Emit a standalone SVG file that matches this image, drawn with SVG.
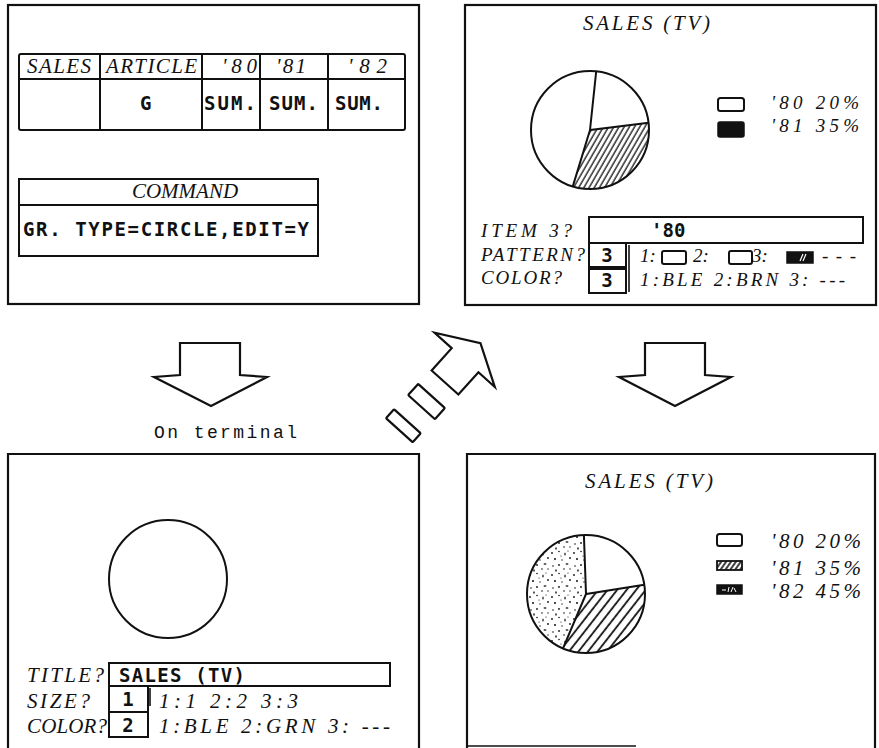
<svg xmlns="http://www.w3.org/2000/svg" width="879" height="748" viewBox="0 0 879 748">
<defs>
<style>
.pan{fill:none;stroke:#111;stroke-width:2.2}
.ln{fill:none;stroke:#111;stroke-width:2}
.thin{fill:none;stroke:#111;stroke-width:1.6}
.it{font-family:"Liberation Serif","DejaVu Serif",serif;font-style:italic;font-size:21px;fill:#111}
.sm{font-size:19px}
.mono{font-family:"DejaVu Sans Mono","Liberation Mono",monospace;font-size:19px;font-weight:bold;fill:#111}
.term{font-family:"Liberation Mono","DejaVu Sans Mono",monospace;font-size:18px;fill:#111}
.box{fill:#fff;stroke:#111;stroke-width:2}
.blk{fill:#111;stroke:#111;stroke-width:1.5}
.arrow{fill:#fff;stroke:#111;stroke-width:2.2;stroke-linejoin:miter}
</style>
<pattern id="hatchA" width="4.5" height="10" patternUnits="userSpaceOnUse" patternTransform="rotate(30)">
<line x1="1" y1="0" x2="1" y2="10" stroke="#111" stroke-width="1.3"/>
</pattern>
<pattern id="hatchB" width="7.5" height="10" patternUnits="userSpaceOnUse" patternTransform="rotate(38)">
<line x1="2" y1="0" x2="2" y2="10" stroke="#111" stroke-width="1.8"/>
</pattern>
<pattern id="hatchC" width="4" height="10" patternUnits="userSpaceOnUse" patternTransform="rotate(35)">
<line x1="1" y1="0" x2="1" y2="10" stroke="#111" stroke-width="1.6"/>
</pattern>
<pattern id="stip" width="22" height="22" patternUnits="userSpaceOnUse">
<g fill="#111">
<circle cx="2" cy="3" r="0.9"/><circle cx="9" cy="1.5" r="0.8"/><ellipse cx="15" cy="4" rx="0.7" ry="1.6"/>
<circle cx="20" cy="8" r="0.9"/><circle cx="5" cy="9" r="1"/><circle cx="12" cy="10" r="0.7"/>
<ellipse cx="17" cy="14" rx="1.5" ry="0.7"/><circle cx="3" cy="16" r="0.8"/><circle cx="9" cy="15" r="0.9"/>
<circle cx="14" cy="19" r="0.8"/><ellipse cx="6" cy="20.5" rx="0.7" ry="1.3"/><circle cx="20" cy="19" r="0.7"/>
<circle cx="11" cy="6" r="0.6"/><circle cx="18" cy="1" r="0.6"/>
</g>
</pattern>
</defs>

<g id="panel-table">
<rect class="pan" x="8" y="5" width="411" height="299"/>
<rect class="ln" x="19" y="54" width="386" height="76" rx="2"/>
<path class="ln" d="M19,79 H405 M100,54 V130 M202,54 V130 M260,54 V130 M328,54 V130"/>
<text class="it" x="27" y="73" textLength="64">SALES</text>
<text class="it" x="106" y="73" textLength="91">ARTICLE</text>
<text class="it" x="222" y="73" textLength="35">'80</text>
<text class="it" x="276" y="73" textLength="30">'81</text>
<text class="it" x="348" y="73" textLength="39">'82</text>
<text class="mono" x="140" y="110">G</text>
<text class="mono" x="204" y="110" textLength="52">SUM.</text>
<text class="mono" x="269" y="110" textLength="49">SUM.</text>
<text class="mono" x="335" y="110" textLength="48">SUM.</text>
<rect class="ln" x="19" y="179" width="299" height="77"/>
<path class="ln" d="M19,205 H318"/>
<text class="it" x="185" y="198" text-anchor="middle" font-size="18">COMMAND</text>
<text class="mono" x="23" y="236" textLength="286">GR. TYPE=CIRCLE,EDIT=Y</text>
</g>

<g id="panel-edit">
<rect class="pan" x="465" y="5" width="411" height="300"/>
<text class="it" x="583" y="30" textLength="127">SALES (TV)</text>
<path d="M590,130 L648.6,122.8 A59,59 0 0,1 572.8,186.4 Z" fill="url(#hatchA)"/>
<circle class="ln" cx="590" cy="130" r="59"/>
<path class="ln" d="M596.2,71.3 L590,130 L648.6,122.8 M590,130 L572.8,186.4"/>
<rect class="box" x="718" y="98" width="26" height="13" rx="2.5" stroke-width="2.5"/>
<rect class="blk" x="718" y="122" width="26" height="15" rx="2"/>
<text class="it sm" x="771" y="109" textLength="88">'80 20%</text>
<text class="it sm" x="771" y="132" textLength="88">'81 35%</text>
<text class="it sm" x="481" y="237" textLength="91">ITEM 3?</text>
<text class="it sm" x="481" y="261" textLength="104">PATTERN?</text>
<text class="it sm" x="481" y="284" textLength="81">COLOR?</text>
<rect class="box" x="589" y="217" width="274" height="26"/>
<text class="mono" x="651" y="237" font-size="20">'80</text>
<rect class="box" x="589" y="243" width="37" height="24"/>
<rect class="box" x="589" y="269" width="37" height="24"/>
<path class="thin" d="M629,245 V292"/>
<text class="mono" x="607" y="262" text-anchor="middle" font-size="20" font-weight="normal">3</text>
<text class="mono" x="607" y="287" text-anchor="middle" font-size="20" font-weight="normal">3</text>
<text class="it sm" x="640" y="262">1:</text>
<rect class="box" x="662" y="251" width="24" height="13" rx="2"/>
<text class="it sm" x="693" y="262">2:</text>
<rect class="box" x="729" y="251" width="23" height="13" rx="2"/>
<text class="it sm" x="752" y="262">3:</text>
<rect class="blk" x="787" y="252" width="26" height="11"/>
<path d="M800,261 L803,254 M803,261 L806,254" stroke="#fff" stroke-width="1.2"/>
<text class="it sm" x="822" y="262" textLength="34">---</text>
<text class="it sm" x="640" y="286" textLength="205">1:BLE 2:BRN 3: ---</text>
</g>

<g id="panel-terminal">
<path class="pan" d="M8,750 V454 H419 V750"/>
<circle class="ln" cx="168" cy="579" r="59"/>
<text class="it" x="27" y="682" textLength="77">TITLE?</text>
<rect class="box" x="109" y="663" width="281" height="23"/>
<text class="mono" x="119" y="682" textLength="126">SALES (TV)</text>
<text class="it" x="27" y="708" textLength="63">SIZE?</text>
<rect class="box" x="109" y="686" width="39" height="26"/>
<rect class="box" x="109" y="712" width="39" height="25"/>
<path class="thin" d="M150,688 V706"/>
<text class="mono" x="128" y="706" text-anchor="middle" font-size="20">1</text>
<text class="mono" x="128" y="732" text-anchor="middle" font-size="20">2</text>
<text class="it" x="27" y="733" textLength="80">COLOR?</text>
<text class="it" x="159" y="708" textLength="139">1:1 2:2 3:3</text>
<text class="it" x="159" y="733" textLength="231">1:BLE 2:GRN 3:  ---</text>
</g>

<g id="panel-result">
<path class="pan" d="M467,750 V454 H875 V750"/>
<path class="thin" d="M467,746 H636"/>
<text class="it" x="585" y="488" textLength="128">SALES (TV)</text>
<path d="M586,594 L644.3,584.8 A59,59 0 0,1 563,648.3 Z" fill="url(#hatchB)"/>
<path d="M586,594 L563,648.3 A59,59 0 0,1 583.9,535 Z" fill="url(#stip)"/>
<circle class="ln" cx="586" cy="594" r="59"/>
<path class="ln" d="M583.9,535 L586,594 L644.3,584.8 M586,594 L563,648.3"/>
<rect class="box" x="717" y="534" width="25" height="12" rx="2.5" stroke-width="2.5"/>
<rect x="717" y="561" width="25" height="9" fill="url(#hatchC)" stroke="#111" stroke-width="1.8"/>
<rect class="blk" x="717" y="585" width="25" height="9"/>
<path d="M722,590 H726 M728,592 L729,587 M731,592 L733,587 M734,588 L736,592" stroke="#fff" stroke-width="1"/>
<text class="it" x="771" y="548" textLength="90">'80 20%</text>
<text class="it" x="771" y="575" textLength="90">'81 35%</text>
<text class="it" x="771" y="598" textLength="90">'82 45%</text>
</g>

<g id="connectors">
<path class="arrow" d="M180,343 H240 V375 L267,377 L211,406 L154,377 L180,375 Z"/>
<text class="term" x="154" y="438" textLength="143">On terminal</text>
<g transform="translate(445,382.5) rotate(42)">
<path class="arrow" d="M-18,0 V-30 L-41,-30 L0,-53 L40,-30 L18,-30 V0 Z"/>
<rect class="arrow" x="-19" y="19" width="36" height="15" rx="1"/>
<rect class="arrow" x="-20" y="54" width="36" height="12" rx="1"/>
</g>
<path class="arrow" d="M645,343 H705 V375 L731,377 L675,406 L619,377 L645,375 Z"/>
</g>
</svg>
